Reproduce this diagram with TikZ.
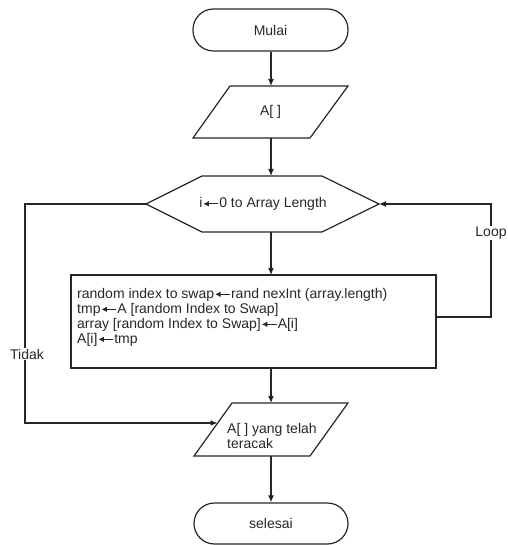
\documentclass[tikz,border=0pt]{standalone}
\usepackage{fontspec}
\setmainfont{Liberation Sans}
\usetikzlibrary{arrows.meta}
\newcommand\larr{\hspace{0.5pt}\tikz[baseline={(0pt,-3.8pt)}]\draw[line width=0.9pt,black!85,-{Latex[length=5.5pt,width=5.5pt]}] (15pt,0pt) -- (0pt,0pt);\hspace{0.5pt}}
\tikzset{
  shapeline/.style={draw=black!85, line width=1.2pt},
  conn/.style={draw=black!85, line width=1.2pt},
  arr/.style={conn, -{Latex[length=7pt,width=6pt]}},
  terminal/.style={shapeline, rectangle, rounded corners=20.5pt, inner sep=0pt},
  txt/.style={font=\fontsize{14}{15}\selectfont, inner sep=0pt, text=black!85},
  lbl/.style={txt, fill=white, inner sep=1pt}
}
\begin{document}
\begin{tikzpicture}[x=1pt,y=-1pt]
\useasboundingbox (0,0) rectangle (507,545);
% Start
\node[terminal, minimum width=155pt, minimum height=42pt, txt] (mulai) at (270.5,30) {Mulai};
% Input parallelogram
\coordinate (inTL) at (230,86);
\coordinate (inTR) at (348,86);
\coordinate (inBR) at (310,138);
\coordinate (inBL) at (193,138);
\draw[shapeline] (inTL) -- (inTR) -- (inBR) -- (inBL) -- cycle;
\node[txt] (inA) at (270.5,112) {A[ ]};
\coordinate (inTop) at (271,86);
\coordinate (inBot) at (271,138);
% Hexagon loop
\coordinate (hexL) at (146,204);
\coordinate (hexR) at (379,204);
\draw[shapeline] (hexL) -- (202,176) -- (322,176) -- (hexR) -- (322,232) -- (202,232) -- cycle;
\node[txt] (hex) at (263,204) {i\larr0 to Array Length};
\coordinate (hexTop) at (271,176);
\coordinate (hexBot) at (271,232);
% Process box
\draw[shapeline] (71,275) rectangle (436,368);
\node[txt, anchor=west, align=left] (proc) at (77,317)
  {random index to swap\larr rand nexInt (array.length)\\
   tmp\larr A [random Index to Swap]\\
   array [random Index to Swap]\larr A[i]\\
   A[i]\larr tmp};
\coordinate (procTop) at (271,275);
\coordinate (procBot) at (271,368);
\coordinate (procR) at (436,317);
% Output parallelogram
\coordinate (outTL) at (232,403);
\coordinate (outTR) at (348,403);
\coordinate (outBR) at (310,456);
\coordinate (outBL) at (194,456);
\draw[shapeline] (outTL) -- (outTR) -- (outBR) -- (outBL) -- cycle;
\node[txt, anchor=west, align=left] (out) at (227,436) {A[ ] yang telah\\teracak};
\coordinate (outTop) at (271,403);
\coordinate (outBot) at (271,456);
\coordinate (outL) at (217.5,423);
% End
\node[terminal, minimum width=154pt, minimum height=41pt, txt] (selesai) at (271,523.5) {selesai};
% Connectors
\draw[arr] (mulai.south -| inTop) -- (inTop);
\draw[arr] (inBot) -- (hexTop);
\draw[arr] (hexBot) -- (procTop);
\draw[arr] (procBot) -- (outTop);
\draw[arr] (outBot) -- (selesai.north -| outBot);
\coordinate (loopA) at (491,317);
\coordinate (loopB) at (491,204);
\draw[arr] (procR) -- (loopA) -- (loopB) -- (hexR);
\node[lbl] (looplbl) at (491,233) {Loop};
\coordinate (noA) at (25,204);
\coordinate (noB) at (25,423);
\draw[arr] (hexL) -- (noA) -- (noB) -- (outL);
\node[lbl] (tidak) at (27,354) {Tidak};
\end{tikzpicture}
\end{document}
